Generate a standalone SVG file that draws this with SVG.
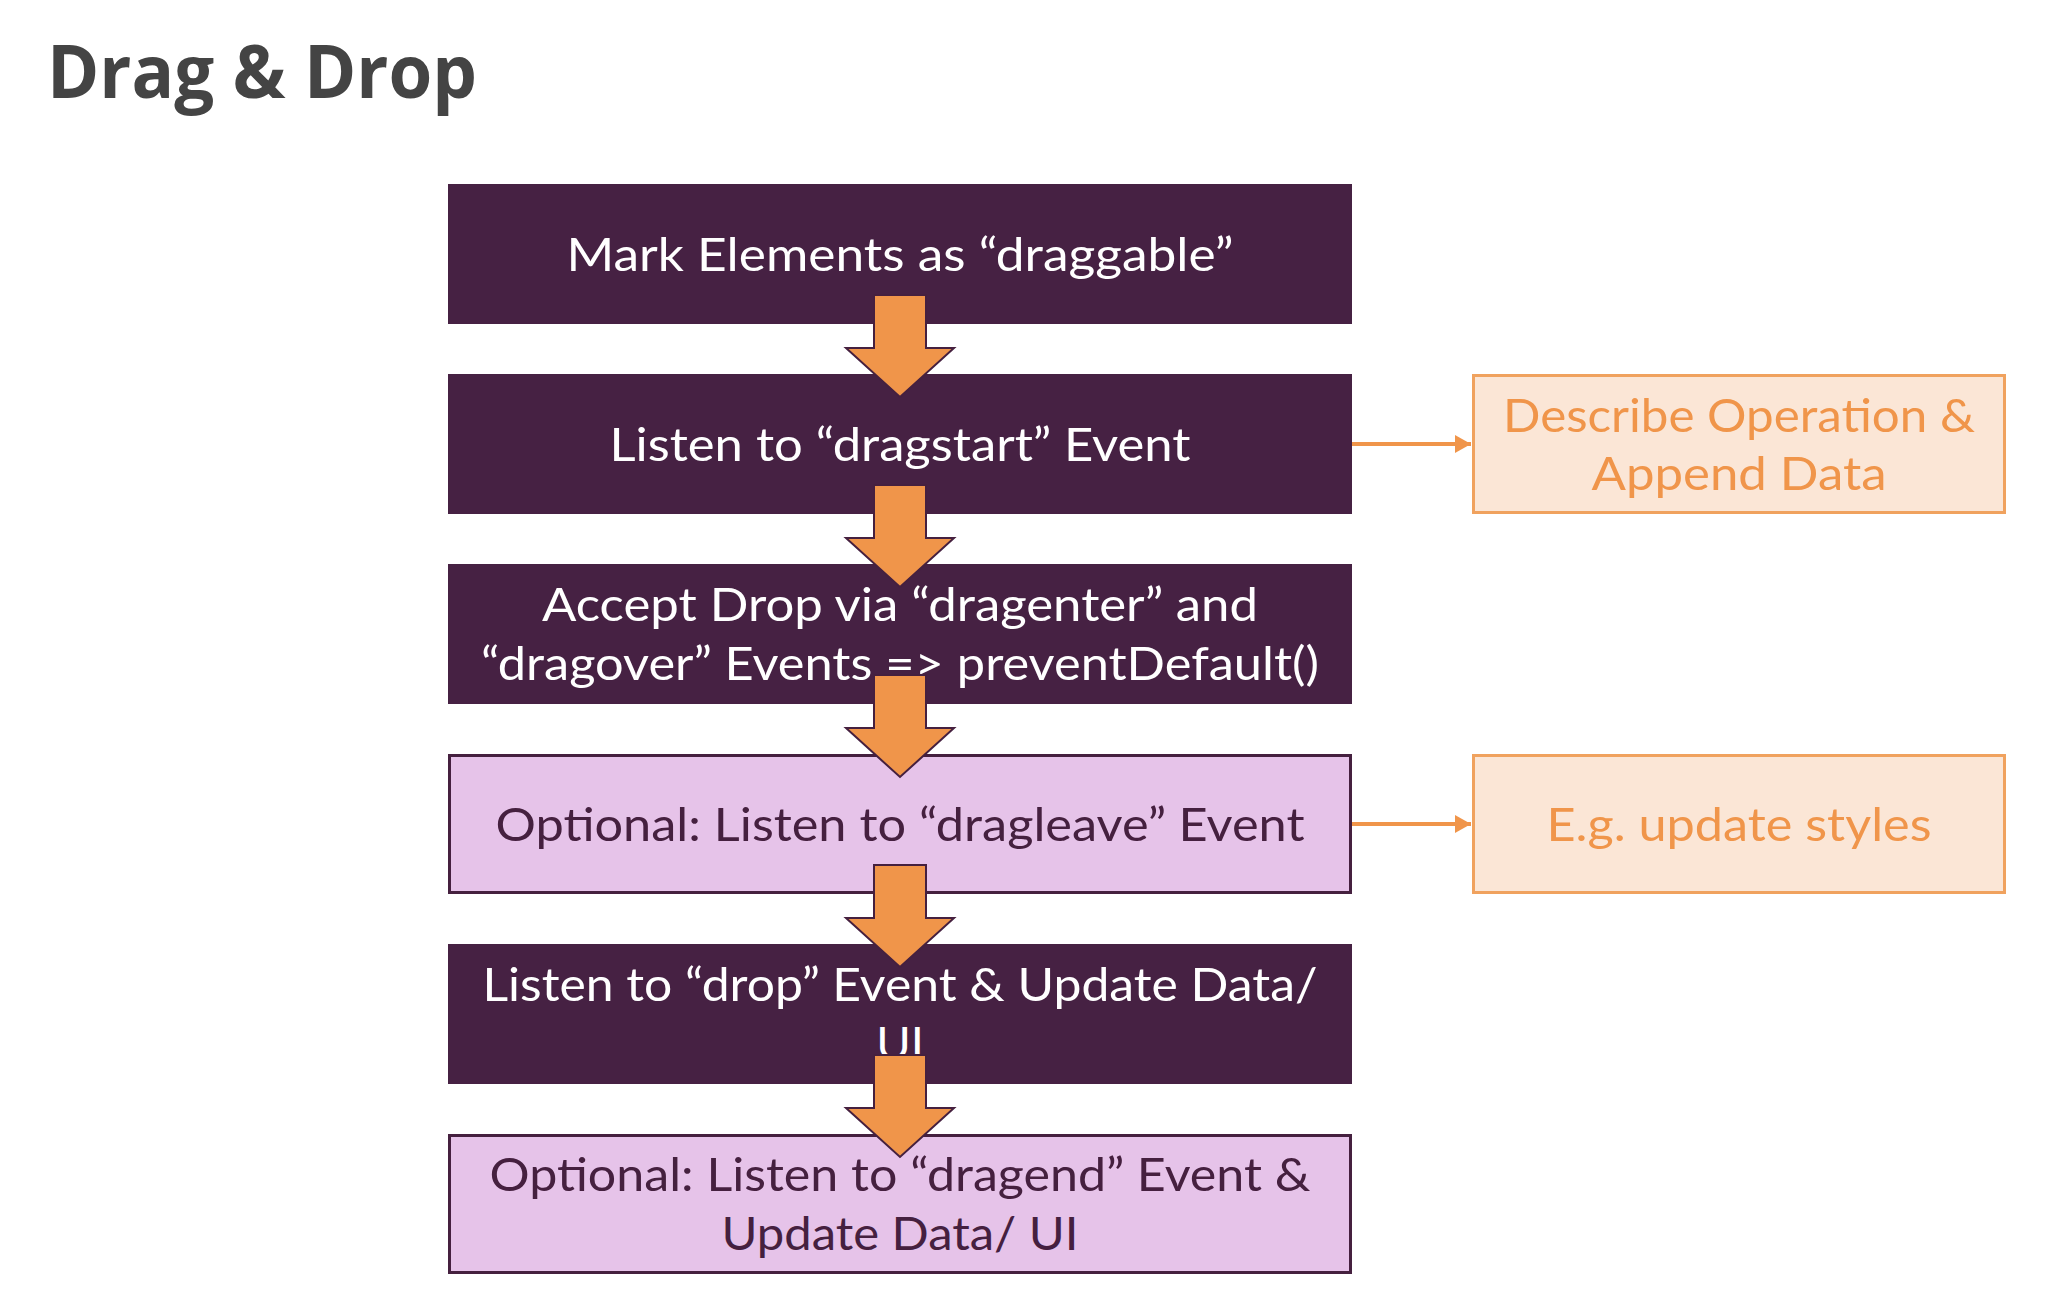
<svg xmlns="http://www.w3.org/2000/svg" width="2062" height="1316" viewBox="0 0 2062 1316">
<style>
.dark{fill:#462143;}
.lilac{fill:#e6c3e9;stroke:#45203f;stroke-width:3;}
.peach{fill:#fbe6d6;stroke:#f0a25e;stroke-width:3;}
.t{font-family:Lato,"Noto Sans",sans-serif;font-size:47px;text-anchor:middle;}
.w{fill:#ffffff;}
.p{fill:#45203f;}
.o{fill:#f0954a;}
.down{fill:#f0954a;stroke:#45203f;stroke-width:2;stroke-linejoin:miter;}
.side{stroke:#f0954a;stroke-width:4;fill:none;}
.title{font-family:"Open Sans","Noto Sans",sans-serif;font-weight:bold;font-size:74px;fill:#444444;}
</style>
<defs>
<marker id="ah" markerWidth="16" markerHeight="18" refX="16" refY="9" orient="auto" markerUnits="userSpaceOnUse">
<path d="M0,0 L16,9 L0,18 Z" fill="#f0954a"/>
</marker>
</defs>
<rect width="2062" height="1316" fill="#ffffff"/>
<text class="title" x="47" y="98" textLength="430" lengthAdjust="spacingAndGlyphs">Drag &amp; Drop</text>

<g id="n1"><rect class="dark" x="448" y="184" width="904" height="140"/>
<text class="t w" x="900" y="271" textLength="667" lengthAdjust="spacingAndGlyphs">Mark Elements as “draggable”</text></g>

<g id="n2"><rect class="dark" x="448" y="374" width="904" height="140"/>
<text class="t w" x="900" y="461" textLength="581" lengthAdjust="spacingAndGlyphs">Listen to “dragstart” Event</text></g>

<g id="n3"><rect class="dark" x="448" y="564" width="904" height="140"/>
<text class="t w" x="900" y="621" textLength="716" lengthAdjust="spacingAndGlyphs">Accept Drop via “dragenter” and</text>
<text class="t w" x="900" y="680" textLength="838" lengthAdjust="spacingAndGlyphs">“dragover” Events =&gt; preventDefault()</text></g>

<g id="n4"><rect class="lilac" x="449.5" y="755.5" width="901" height="137"/>
<text class="t p" x="900" y="841" textLength="809" lengthAdjust="spacingAndGlyphs">Optional: Listen to “dragleave” Event</text></g>

<g id="n5"><rect class="dark" x="448" y="944" width="904" height="140"/>
<text class="t w" x="900" y="1001" textLength="835" lengthAdjust="spacingAndGlyphs">Listen to “drop” Event &amp; Update Data/</text>
<text class="t w" x="900" y="1060">UI</text></g>

<g id="n6"><rect class="lilac" x="449.5" y="1135.5" width="901" height="137"/>
<text class="t p" x="900" y="1191" textLength="821" lengthAdjust="spacingAndGlyphs">Optional: Listen to “dragend” Event &amp;</text>
<text class="t p" x="900" y="1250" textLength="357" lengthAdjust="spacingAndGlyphs">Update Data/ UI</text></g>

<g id="s1"><rect class="peach" x="1473.5" y="375.5" width="531" height="137"/>
<text class="t o" x="1739" y="432" textLength="472" lengthAdjust="spacingAndGlyphs">Describe Operation &amp;</text>
<text class="t o" x="1739" y="490" textLength="295" lengthAdjust="spacingAndGlyphs">Append Data</text></g>

<g id="s2"><rect class="peach" x="1473.5" y="755.5" width="531" height="137"/>
<text class="t o" x="1739" y="841" textLength="385" lengthAdjust="spacingAndGlyphs">E.g. update styles</text></g>

<g id="connectors">
<polygon class="down" points="874,295 926,295 926,348 954,348 900,397 846,348 874,348"/>
<polygon class="down" points="874,485 926,485 926,538 954,538 900,587 846,538 874,538"/>
<polygon class="down" points="874,675 926,675 926,728 954,728 900,777 846,728 874,728"/>
<polygon class="down" points="874,865 926,865 926,918 954,918 900,967 846,918 874,918"/>
<polygon class="down" points="874,1055 926,1055 926,1108 954,1108 900,1157 846,1108 874,1108"/>
<line class="side" x1="1352" y1="444" x2="1471" y2="444" marker-end="url(#ah)"/>
<line class="side" x1="1352" y1="824" x2="1471" y2="824" marker-end="url(#ah)"/>
</g>
</svg>
